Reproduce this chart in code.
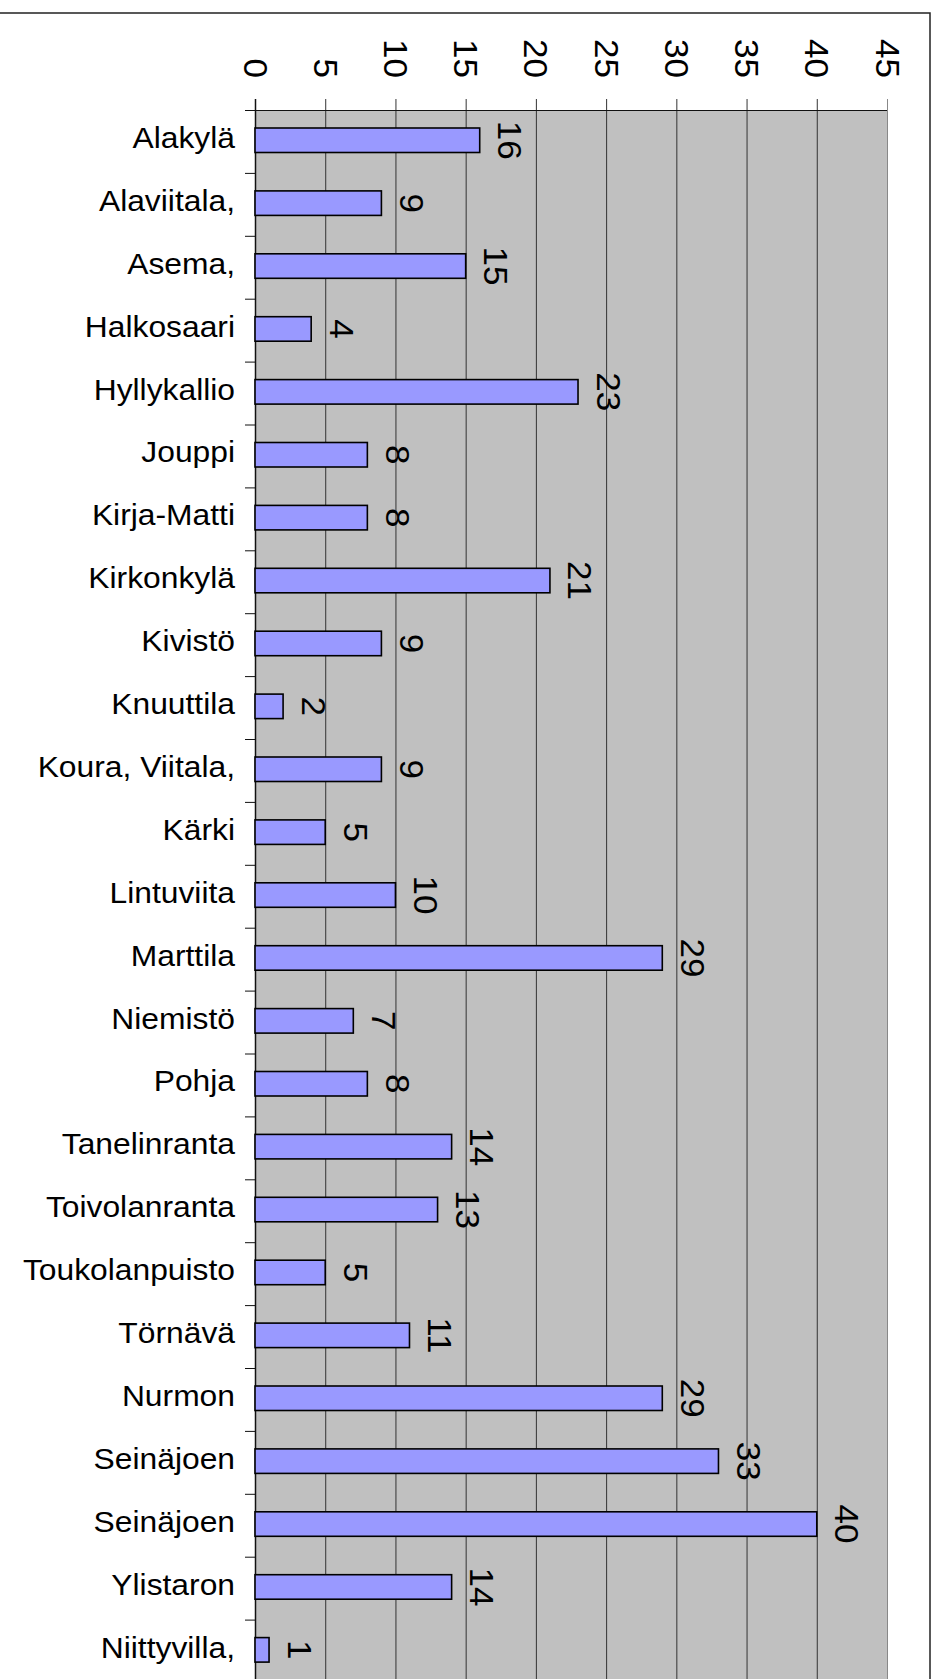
<!DOCTYPE html>
<html>
<head>
<meta charset="utf-8">
<script src="https://cdn.jsdelivr.net/npm/d3@7"></script>
<style>
    body { margin: 0; background: white; }
    text { font-family: "Liberation Sans", Arial, sans-serif; fill: black; }
</style>
</head>
<body>
<script>
const categories = [
    "Alakylä", "Alaviitala,", "Asema,", "Halkosaari", "Hyllykallio",
    "Jouppi", "Kirja-Matti", "Kirkonkylä", "Kivistö", "Knuuttila",
    "Koura, Viitala,", "Kärki", "Lintuviita", "Marttila", "Niemistö",
    "Pohja", "Tanelinranta", "Toivolanranta", "Toukolanpuisto", "Törnävä",
    "Nurmon", "Seinäjoen", "Seinäjoen", "Ylistaron", "Niittyvilla,"
];
const values = [16, 9, 15, 4, 23, 8, 8, 21, 9, 2, 9, 5, 10, 29, 7, 8, 14, 13, 5, 11, 29, 33, 40, 14, 1];
const tick_values = [0, 5, 10, 15, 20, 25, 30, 35, 40, 45];

const width = 937;
const height = 1679;

const plot_left = 255;
const plot_right = 887;
const plot_top = 110;
const step = 62.9;
const plot_bottom = plot_top + step * categories.length;

const data = categories.map((c, i) => ({ key: i, name: c, value: values[i] }));

const svg = d3
    .select("body")
    .append("svg")
    .attr("width", width)
    .attr("height", height);

const x = d3
    .scaleLinear()
    .domain([0, 45])
    .range([plot_left, plot_right]);
const y = d3
    .scaleBand()
    .domain(data.map(d => d.key))
    .range([plot_top, plot_bottom])
    .padding(0);

// outer frame (left and bottom edges fall outside the picture)
svg.append("rect")
    .attr("x", -2)
    .attr("y", 13)
    .attr("width", 932)
    .attr("height", height + 10)
    .attr("fill", "white")
    .attr("stroke", "#222")
    .attr("stroke-width", 1.5);

// plot area
svg.append("rect")
    .attr("x", plot_left)
    .attr("y", plot_top)
    .attr("width", plot_right - plot_left)
    .attr("height", plot_bottom - plot_top)
    .attr("fill", "#c0c0c0");

svg.append("g")
    .attr("id", "grid")
    .selectAll("line")
    .data(tick_values.slice(1))
    .join("line")
    .attr("x1", d => x(d) + 0.5)
    .attr("x2", d => x(d) + 0.5)
    .attr("y1", plot_top - 11)
    .attr("y2", plot_bottom)
    .attr("stroke", d => d === 45 ? "#888" : "#333")
    .attr("stroke-width", 1);

// top axis line and left axis line
svg.append("line")
    .attr("x1", plot_left)
    .attr("x2", plot_right)
    .attr("y1", plot_top + 0.5)
    .attr("y2", plot_top + 0.5)
    .attr("stroke", "#111");
svg.append("line")
    .attr("x1", plot_left + 0.5)
    .attr("x2", plot_left + 0.5)
    .attr("y1", plot_top - 11)
    .attr("y2", plot_bottom)
    .attr("stroke", "#111")
    .attr("stroke-width", 1.5);

// category ticks on the left
svg.append("g")
    .attr("id", "cat_ticks")
    .selectAll("line")
    .data(data)
    .join("line")
    .attr("x1", plot_left - 10)
    .attr("x2", plot_left)
    .attr("y1", d => y(d.key) + 0.5)
    .attr("y2", d => y(d.key) + 0.5)
    .attr("stroke", "#111");

// value axis labels, turned on their side
svg.append("g")
    .attr("id", "tick_labels")
    .selectAll("text")
    .data(tick_values)
    .join("text")
    .attr("transform", d => `translate(${x(d) - 11.5},78) rotate(90) scale(1.08,1)`)
    .attr("text-anchor", "end")
    .style("font-size", "32.5px")
    .text(d => d);

// category labels
svg.append("g")
    .attr("id", "cat_labels")
    .selectAll("text")
    .data(data)
    .join("text")
    .attr("transform", d => `translate(235,${y(d.key) + y.bandwidth() / 2 + 6.5}) scale(1.06,1)`)
    .attr("text-anchor", "end")
    .style("font-size", "30px")
    .text(d => d.name);

// bars
const bar_h = 24.5;
svg.append("g")
    .attr("id", "bars")
    .selectAll("rect")
    .data(data)
    .join("rect")
    .attr("x", x(0))
    .attr("y", d => y(d.key) + 18)
    .attr("width", d => x(d.value) - x(0))
    .attr("height", bar_h)
    .attr("fill", "#9999ff")
    .attr("stroke", "black")
    .attr("stroke-width", 1.6);

// value labels
svg.append("g")
    .attr("id", "value_labels")
    .selectAll("text")
    .data(data)
    .join("text")
    .attr("transform", d => `translate(${x(d.value) + 18.5},${y(d.key) + 18 + bar_h / 2}) rotate(90) scale(1.08,1)`)
    .attr("text-anchor", "middle")
    .style("font-size", "32.5px")
    .text(d => d.value);
</script>
</body>
</html>
